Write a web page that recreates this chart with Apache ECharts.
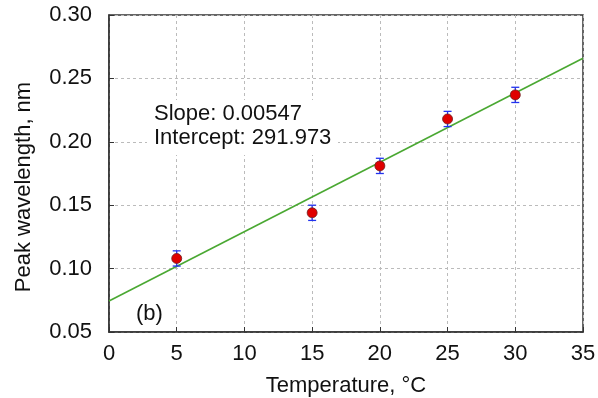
<!DOCTYPE html>
<html>
<head>
<meta charset="utf-8">
<script src="https://cdn.jsdelivr.net/npm/echarts@6/dist/echarts.min.js"></script>
<style>
  html, body { margin: 0; padding: 0; background: #fff; }
  #chart { width: 598px; height: 398px; }
</style>
</head>
<body>
<div id="chart"></div>
<script>
// Measured peak wavelength shift against temperature
const temperatures = [5, 15, 20, 25, 30];
const peakShift = [0.108, 0.144, 0.181, 0.218, 0.237];
const errHalf = [0.006, 0.006, 0.006, 0.006, 0.006];

// Linear fit
const fitSlope = 0.00547;
const fitOffset = 0.0745;
const fitX = [0, 35];

const xTicks = [0, 5, 10, 15, 20, 25, 30, 35];
const yTicks = [0.05, 0.10, 0.15, 0.20, 0.25, 0.30];

const font = 'Liberation Sans, Arial, sans-serif';
const fs = 22;
const chart = echarts.init(document.getElementById('chart'));

const points = temperatures.map((t, i) => [t, peakShift[i]]);
const bars = temperatures.map((t, i) => [t, peakShift[i] - errHalf[i], peakShift[i] + errHalf[i]]);
const fitLine = fitX.map(x => [x, fitOffset + fitSlope * x]);

chart.setOption({
  animation: false,
  backgroundColor: '#fff',
  grid: { left: 109, right: 15, top: 15, bottom: 66, outerBoundsMode: 'none', containLabel: false,
          show: true, borderColor: '#333', borderWidth: 1.5, backgroundColor: 'transparent' },
  xAxis: {
    type: 'value', min: xTicks[0], max: xTicks[xTicks.length - 1], interval: 5,
    name: 'Temperature, °C', nameLocation: 'middle', nameGap: 43,
    nameTextStyle: { fontFamily: font, fontSize: fs, color: '#111' },
    axisLine: { show: true, lineStyle: { color: '#333', width: 1.5 } },
    axisTick: { show: true, inside: true, length: 5, lineStyle: { color: '#333' } },
    axisLabel: { fontFamily: font, fontSize: fs, color: '#111', margin: 11 },
    splitLine: { show: true, lineStyle: { color: '#bbb', type: [3, 3], width: 1 } }
  },
  yAxis: {
    type: 'value', min: yTicks[0], max: yTicks[yTicks.length - 1], interval: 0.05,
    axisLine: { show: true, lineStyle: { color: '#333', width: 1.5 } },
    axisTick: { show: true, inside: true, length: 5, lineStyle: { color: '#333' } },
    axisLabel: { fontFamily: font, fontSize: fs, color: '#111', margin: 17, formatter: v => v.toFixed(2) },
    splitLine: { show: true, lineStyle: { color: '#bbb', type: [3, 3], width: 1 } }
  },
  series: [
    {
      type: 'line', data: fitLine, symbol: 'none', z: 2,
      lineStyle: { color: '#4aa832', width: 1.6 }
    },
    {
      type: 'custom', data: bars, z: 3,
      renderItem: (params, api) => {
        const lo = api.coord([api.value(0), api.value(1)]);
        const hi = api.coord([api.value(0), api.value(2)]);
        const cap = 4;
        const style = { stroke: '#2233ee', lineWidth: 1.3 };
        return {
          type: 'group',
          children: [
            { type: 'line', shape: { x1: lo[0], y1: lo[1], x2: hi[0], y2: hi[1] }, style },
            { type: 'line', shape: { x1: lo[0] - cap, y1: lo[1], x2: lo[0] + cap, y2: lo[1] }, style },
            { type: 'line', shape: { x1: hi[0] - cap, y1: hi[1], x2: hi[0] + cap, y2: hi[1] }, style }
          ]
        };
      }
    },
    {
      type: 'scatter', data: points, symbol: 'circle', symbolSize: 10, z: 4,
      itemStyle: { color: '#e00000', borderColor: '#702020', borderWidth: 0.8, opacity: 1 }
    }
  ],
  graphic: [
    { type: 'text', x: 24, y: 187, rotation: Math.PI / 2,
      style: { text: 'Peak wavelength, nm', font: fs + 'px ' + font, fill: '#111', textAlign: 'center', textVerticalAlign: 'middle' } },
    // white box behind the fit annotation
    { type: 'rect', z: 10, shape: { x: 147, y: 100, width: 191, height: 55 }, style: { fill: '#fff' } },
    { type: 'text', z: 11, x: 154, y: 114, style: { text: 'Slope: 0.00547', font: fs + 'px ' + font, fill: '#111', textVerticalAlign: 'middle' } },
    { type: 'text', z: 11, x: 154, y: 138, style: { text: 'Intercept: 291.973', font: fs + 'px ' + font, fill: '#111', textVerticalAlign: 'middle' } },
    { type: 'text', x: 136, y: 314, style: { text: '(b)', font: fs + 'px ' + font, fill: '#111', textVerticalAlign: 'middle' } }
  ]
});
</script>
</body>
</html>
